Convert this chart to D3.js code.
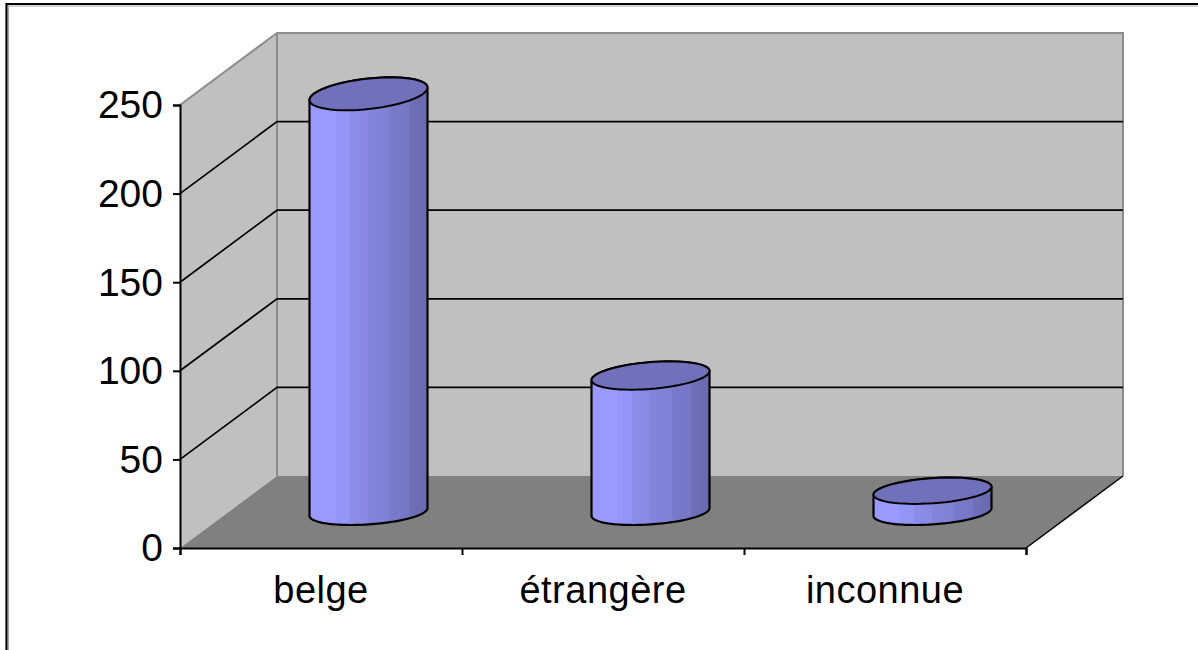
<!DOCTYPE html>
<html>
<head>
<meta charset="utf-8">
<script src="https://cdn.jsdelivr.net/npm/d3@7/dist/d3.min.js"></script>
<style>
html,body{margin:0;padding:0;background:#fff;}
svg{display:block;}
text{font-family:"Liberation Sans",Arial,sans-serif;fill:#000;}
</style>
</head>
<body>
<svg id="chart" width="1198" height="650"></svg>
<script>
const categories = ["belge", "étrangère", "inconnue"];
const values = [236, 77, 12];
const yTicks = [0, 50, 100, 150, 200, 250];
const shadeStops = [
  [0, "#9999ff"], [0.22, "#9999ff"], [0.22, "#9696fa"], [0.34, "#9494f6"],
  [0.34, "#8c8cea"], [0.5, "#8989e4"], [0.5, "#8484dc"], [0.68, "#8080d5"],
  [0.68, "#7a7acc"], [0.84, "#7777c6"], [0.84, "#7070bb"], [1, "#6969ae"]
];

const width = 1198, height = 650;
const frame = { left: 180, right: 1026, bottom: 548, top: 105 };
const depth = { dx: 97, dy: 72 };
const barHalfWidth = 59;

const svg = d3.select("#chart");
const x = d3.scaleBand().domain(categories).range([frame.left, frame.right]);
const y = d3.scaleLinear().domain([0, 250]).range([frame.bottom, frame.top]);
const line = d3.line();

// Outer chart frame: top and left sides only
svg.append("path").attr("d", `M6.5,${height}V4H${width}`)
  .attr("fill", "none").attr("stroke", "#000").attr("stroke-width", 2.2);
svg.append("path").attr("d", `M8.5,${height}V6H${width}`)
  .attr("fill", "none").attr("stroke", "#a8a8a8").attr("stroke-width", 1.2);

// Walls and floor of the 3D box
const walls = svg.append("g");
const wallLeft = frame.left + depth.dx, wallRight = frame.right + depth.dx;
const wallTop = y(250) - depth.dy, wallBottom = y(0) - depth.dy;
walls.append("path")
  .attr("d", line([[frame.left, y(250)], [wallLeft, wallTop], [wallLeft, wallBottom], [frame.left, y(0)]]))
  .attr("fill", "#c0c0c0");
walls.append("path")
  .attr("d", line([[wallLeft, wallTop], [wallRight, wallTop], [wallRight, wallBottom], [wallLeft, wallBottom]]))
  .attr("fill", "#c0c0c0");
walls.append("path")
  .attr("d", line([[frame.left, y(0)], [wallLeft, wallBottom], [wallRight, wallBottom], [frame.right, y(0)]]))
  .attr("fill", "#808080");
walls.append("path")
  .attr("d", line([[frame.left, y(250)], [wallLeft, wallTop], [wallRight, wallTop], [wallRight, wallBottom]]))
  .attr("fill", "none").attr("stroke", "#8c8c8c").attr("stroke-width", 2);
walls.append("path")
  .attr("d", line([[wallLeft, wallTop], [wallLeft, wallBottom]]))
  .attr("stroke", "#8c8c8c").attr("stroke-width", 2);

// Gridlines run along the side wall and across the back wall
const grid = yTicks.filter(t => t > 0 && t < 250);
svg.append("g").selectAll("path").data(grid).join("path")
  .attr("d", t => line([[frame.left, y(t)], [wallLeft, y(t) - depth.dy], [wallRight, y(t) - depth.dy]]))
  .attr("fill", "none").attr("stroke", "#000").attr("stroke-width", 1.7);
svg.append("path")
  .attr("d", line([[frame.right, y(0)], [wallRight, wallBottom]]))
  .attr("fill", "none").attr("stroke", "#000").attr("stroke-width", 1.5);

// Axes
const yAxis = svg.append("g").attr("transform", `translate(${frame.left},0)`)
  .call(d3.axisLeft(y).tickValues(yTicks).tickSize(7).tickPadding(10));
const xTickPositions = categories.map(c => x(c)).concat(frame.right);
const xAxis = svg.append("g").attr("transform", `translate(0,${frame.bottom})`)
  .call(d3.axisBottom(d3.scaleLinear().domain([frame.left, frame.right]).range([frame.left, frame.right]))
    .tickValues(xTickPositions).tickSize(7).tickFormat(""));
[yAxis, xAxis].forEach(a => {
  a.attr("font-family", null).attr("font-size", null);
  a.selectAll("path,line").attr("stroke", "#000").attr("stroke-width", 2);
});
yAxis.selectAll("text").attr("font-size", 39).attr("fill", "#000").attr("dy", "0.33em");

svg.append("g").selectAll("text").data(categories).join("text")
  .attr("x", c => x(c) + x.bandwidth() / 2)
  .attr("y", 603)
  .attr("text-anchor", "middle")
  .attr("font-size", 38)
  .attr("letter-spacing", 0.5)
  .text(c => c);

// Shading across each cylinder
const gradient = svg.append("defs").append("linearGradient").attr("id", "cylinderShade");
gradient.selectAll("stop").data(shadeStops).join("stop")
  .attr("offset", d => d[0]).attr("stop-color", d => d[1]);

// A slice of the cylinder: a circle on the floor plane seen through the box's skew
function ring(cx, cy, t0, t1, squash) {
  const rise = squash, skew = squash * depth.dx / depth.dy;
  const along = Math.sqrt(barHalfWidth * barHalfWidth - skew * skew);
  return d3.range(0, 61).map(i => {
    const t = t0 + (t1 - t0) * i / 60;
    return [cx + along * Math.cos(t) + skew * Math.sin(t), cy - rise * Math.sin(t)];
  });
}
const squashAt = v => 13 + v * 0.0147;
const floorShift = { dx: 47.5, dy: 36 };

const bars = svg.append("g").selectAll("g")
  .data(categories.map((c, i) => ({ c, v: values[i] })))
  .join("g");

bars.each(function (d) {
  const g = d3.select(this);
  const cx = x(d.c) + x.bandwidth() / 2 + floorShift.dx;
  const baseY = y(0) - floorShift.dy, topY = y(d.v) - floorShift.dy;
  const sTop = squashAt(d.v), sBase = squashAt(0);
  const skewTop = sTop * depth.dx / depth.dy, skewBase = sBase * depth.dx / depth.dy;
  // Angles where each ring reaches its left and right extremes
  const edge = (skew) => Math.atan2(skew, Math.sqrt(barHalfWidth * barHalfWidth - skew * skew));
  const a0 = edge(skewTop), a1 = edge(skewBase);
  const body = ring(cx, topY, a0, a0 + Math.PI, sTop)
    .concat(ring(cx, baseY, a1 + Math.PI, a1 + 2 * Math.PI, sBase));
  g.append("path").attr("d", line(body) + "Z")
    .attr("fill", "url(#cylinderShade)").attr("stroke", "#000").attr("stroke-width", 2.2)
    .attr("stroke-linejoin", "round");
  g.append("path").attr("d", line(ring(cx, topY, 0, 2 * Math.PI, sTop)) + "Z")
    .attr("fill", "#7070bb").attr("stroke", "#000").attr("stroke-width", 2);
});
</script>
</body>
</html>
